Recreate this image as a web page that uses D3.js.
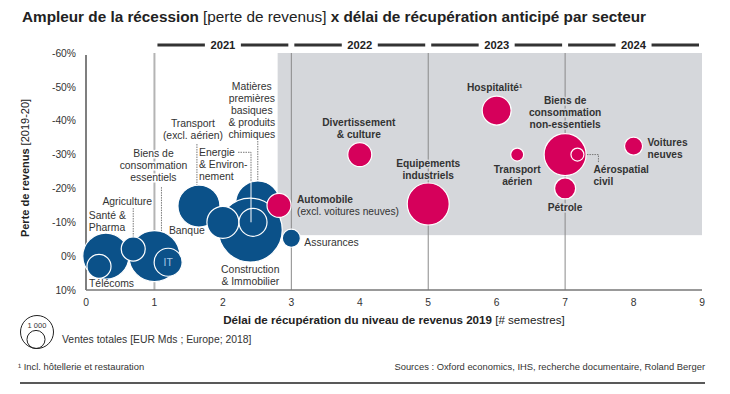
<!DOCTYPE html>
<html>
<head>
<meta charset="utf-8">
<script src="https://cdn.jsdelivr.net/npm/d3@7"></script>
<style>
  body { margin: 0; background: #fff; }
  svg { font-family: "Liberation Sans", Arial, sans-serif; }
</style>
</head>
<body>
<svg id="chart" width="730" height="394"></svg>
<script>
// sectors, in drawing order (later ones sit on top)
var sectors = ["Transport (excl. aérien)", "Matières premières basiques & produits chimiques", "Construction & Immobilier",
  "Banque", "Energie & Environnement", "Automobile (excl. voitures neuves)", "Assurances", "Santé & Pharma", "Télécoms",
  "Biens de consommation essentiels", "Agriculture", "IT", "Divertissement & culture", "Equipements industriels",
  "Hospitalité", "Transport aérien", "Biens de consommation non-essentiels", "Aérospatial civil", "Pétrole", "Voitures neuves"];
// recovery delay [# semesters]
var recovery = [1.65, 2.51, 2.4, 2.0, 2.44, 2.82, 3.0, 0.29, 0.19, 1.0, 0.69, 1.2, 4.0, 5.0, 6.0, 6.3, 7.0, 7.18, 7.0, 8.0];
// revenue loss 2019-20 [%]
var revenueLoss = [-14.8, -15.7, -7.7, -10, -10, -15, -5.3, 0, 3, 0, -2.1, 1.8, -30, -15.4, -43, -30, -30, -30, -20, -32.5];
// total sales [EUR bn; Europe; 2018]
var sales = [1620, 1780, 3760, 940, 720, 530, 300, 1950, 530, 2390, 530, 720, 530, 1620, 770, 155, 1620, 155, 405, 300];
// hardest hit sectors (drawn in pink)
var hardHit = [false, false, false, false, false, true, false, false, false, false, false, false, true, true, true, true, true, true, true, true];

var yTicks = [-60, -50, -40, -30, -20, -10, 0, 10];
var xTicks = [0, 1, 2, 3, 4, 5, 6, 7, 8, 9];
var years = ["2021", "2022", "2023", "2024"];
var legendSales = [1000, 300];

var blue = "#0b5189", pink = "#d6005b", grey = "#d5d7db", ink = "#333";

var svg = d3.select("#chart");
var x = d3.scaleLinear().domain([0, 9]).range([86, 702]);
var y = d3.scaleLinear().domain([-60, 10]).range([53, 290]);
var r = d3.scaleSqrt().domain([0, 1000]).range([0, 16.5]);

// title
var title = svg.append("text").attr("x", 22).attr("y", 22).attr("font-size", 15.3).attr("fill", "#222");
title.append("tspan").attr("font-weight", "bold").text("Ampleur de la récession");
title.append("tspan").text(" [perte de revenus] ");
title.append("tspan").attr("font-weight", "bold").text("x délai de récupération anticipé par secteur");

// shaded zone
svg.append("rect")
  .attr("x", x(2.8)).attr("y", y(-60))
  .attr("width", x(9) - x(2.8)).attr("height", y(-6.2) - y(-60))
  .attr("fill", grey);

// year brackets
years.forEach(function(yr, i) {
  var x0 = x(2 * i + 1) + 3, x1 = x(2 * i + 3) - 3, xm = (x0 + x1) / 2;
  svg.append("line").attr("x1", x0).attr("x2", xm - 18).attr("y1", 45).attr("y2", 45).attr("stroke", ink).attr("stroke-width", 3);
  svg.append("line").attr("x1", xm + 18).attr("x2", x1).attr("y1", 45).attr("y2", 45).attr("stroke", ink).attr("stroke-width", 3);
  svg.append("text").attr("x", xm).attr("y", 49).attr("text-anchor", "middle")
    .attr("font-size", 11.2).attr("font-weight", "bold").attr("fill", "#222").text(yr);
});

// year separators
[1, 3, 5, 7].forEach(function(v) {
  svg.append("line").attr("x1", x(v)).attr("x2", x(v)).attr("y1", y(-60)).attr("y2", y(10))
    .attr("stroke", v === 1 ? "#b4b4b4" : "#8a8a8a").attr("stroke-width", v === 1 ? 2 : 1);
});

// axes
svg.append("line").attr("x1", x(0)).attr("x2", x(0)).attr("y1", y(-60) + 2).attr("y2", y(10)).attr("stroke", "#555").attr("stroke-width", 1.5);
svg.append("line").attr("x1", x(0)).attr("x2", x(9)).attr("y1", y(10)).attr("y2", y(10)).attr("stroke", "#777").attr("stroke-width", 1.5);

svg.append("g").selectAll("text").data(yTicks).enter().append("text")
  .attr("x", 76).attr("y", function(d) { return y(d) + 3.7; })
  .attr("text-anchor", "end").attr("font-size", 10.3).attr("fill", ink)
  .text(function(d) { return d + "%"; });

svg.append("g").selectAll("text").data(xTicks).enter().append("text")
  .attr("x", function(d) { return x(d); }).attr("y", 306)
  .attr("text-anchor", "middle").attr("font-size", 10.3).attr("fill", ink)
  .text(function(d) { return d; });

var xt = svg.append("text").attr("x", 394).attr("y", 324).attr("text-anchor", "middle").attr("font-size", 11.6).attr("fill", "#222");
xt.append("tspan").attr("font-weight", "bold").text("Délai de récupération du niveau de revenus 2019");
xt.append("tspan").text(" [# semestres]");

var yt = svg.append("text").attr("transform", "translate(29,168) rotate(-90)").attr("text-anchor", "middle").attr("font-size", 11).attr("fill", "#222");
yt.append("tspan").attr("font-weight", "bold").text("Perte de revenus");
yt.append("tspan").text("  [2019-20]");

// label placement, offsets in px from each bubble centre
var labels = {
  0: {lines: ["Transport", "(excl. aérien)"], dx: -6, dy: -79, anchor: "middle", leader: [[-2, -62], [-2, "top"]]},
  1: {lines: ["Matières", "premières", "basiques", "& produits", "chimiques"], dx: -6, dy: -112.5, anchor: "middle", leader: [[0, -62], [0, "top"]]},
  2: {lines: ["Construction", "& Immobilier"], dx: 0, dy: 43, anchor: "middle"},
  3: {lines: ["Banque"], dx: -54, dy: 12, anchor: "start"},
  4: {lines: ["Energie", "& Environ-", "nement"], dx: -54, dy: -66.5, anchor: "start", leader: [[-15, -70], [-2, -70], [-2, -40]], inner: [[-2, -40], [-2, 0]]},
  5: {lines: ["Automobile", "(excl. voitures neuves)"], dx: 18, dy: -2.5, anchor: "start", boldFirst: true},
  6: {lines: ["Assurances"], dx: 13, dy: 7.5, anchor: "start"},
  7: {lines: ["Santé &", "Pharma"], dx: -17, dy: -37.5, anchor: "start"},
  8: {lines: ["Télécoms"], dx: -10, dy: 21, anchor: "start"},
  9: {lines: ["Biens de", "consommation", "essentiels"], dx: -1, dy: -99, anchor: "middle", halo: true, leader: [[7, -69], [7, "top"]]},
  10: {lines: ["Agriculture"], dx: -6, dy: -44.5, anchor: "middle", leader: [[0, -41], [0, "top"]]},
  11: {lines: ["IT"], dx: 0, dy: 4, anchor: "middle", inside: true},
  12: {lines: ["Divertissement", "& culture"], dx: -1, dy: -28.5, anchor: "middle"},
  13: {lines: ["Equipements", "industriels"], dx: 0, dy: -37.5, anchor: "middle", halo: true},
  14: {lines: ["Hospitalité¹"], dx: -2, dy: -19.5, anchor: "middle"},
  15: {lines: ["Transport", "aérien"], dx: 0, dy: 18.5, anchor: "middle"},
  16: {lines: ["Biens de", "consommation", "non-essentiels"], dx: 0, dy: -50.5, anchor: "middle", halo: true},
  17: {lines: ["Aérospatial", "civil"], dx: 16, dy: 18.5, anchor: "start", leader: [[7, 0], [21, 0], [21, 8]]},
  18: {lines: ["Pétrole"], dx: 0, dy: 22.5, anchor: "middle", halo: true},
  19: {lines: ["Voitures", "neuves"], dx: 14, dy: -0.5, anchor: "start"}
};

var data = sectors.map(function(s, i) {
  return {name: s, x: recovery[i], y: revenueLoss[i], sales: sales[i], hard: hardHit[i], label: labels[i]};
});

function leaderPoints(d) {
  var cx = x(d.x), cy = y(d.y), rad = r(d.sales);
  return d.label.leader.map(function(p) {
    var py = p[1] === "top" ? -Math.sqrt(rad * rad - p[0] * p[0]) : p[1];
    return [cx + p[0], cy + py];
  });
}

// dotted leaders (under bubbles)
svg.append("g").selectAll("path").data(data.filter(function(d) { return d.label.leader; })).enter().append("path")
  .attr("d", function(d) { return d3.line()(leaderPoints(d)); })
  .attr("fill", "none").attr("stroke", "#777").attr("stroke-width", 1).attr("stroke-dasharray", "1.5,1");

// bubbles
svg.append("g").selectAll("circle").data(data).enter().append("circle")
  .attr("cx", function(d) { return x(d.x); })
  .attr("cy", function(d) { return y(d.y); })
  .attr("r", function(d) { return r(d.sales); })
  .attr("fill", function(d) { return d.hard ? pink : blue; })
  .attr("stroke", "#fff").attr("stroke-width", 1.2);

// leader parts running over bubbles
data.filter(function(d) { return d.label.inner; }).forEach(function(d) {
  svg.append("path").attr("d", d3.line()(d.label.inner.map(function(p) { return [x(d.x) + p[0], y(d.y) + p[1]]; })))
    .attr("stroke", "#fff").attr("stroke-width", 1);
});

// labels
var lab = svg.append("g").selectAll("text").data(data).enter().append("text")
  .attr("x", function(d) { return x(d.x) + d.label.dx; })
  .attr("y", function(d) { return y(d.y) + d.label.dy; })
  .attr("text-anchor", function(d) { return d.label.anchor; })
  .attr("font-size", function(d) { return d.hard ? 10.2 : 10.4; })
  .attr("font-weight", function(d) { return d.hard && !d.label.boldFirst ? "bold" : "normal"; })
  .attr("fill", function(d) { return d.label.inside ? "#a9c8e6" : ink; })
  .attr("stroke", function(d) { return d.label.halo ? (d.hard || d.x > 3 ? grey : "#fff") : "none"; })
  .attr("stroke-width", 3).attr("paint-order", "stroke");

lab.each(function(d) {
  var t = d3.select(this);
  d.label.lines.forEach(function(line, k) {
    var ts = t.append("tspan").attr("x", x(d.x) + d.label.dx).attr("dy", k === 0 ? 0 : 12).text(line);
    if (d.label.boldFirst && k === 0) ts.attr("font-weight", "bold");
  });
});

// legend
var lg = svg.append("g");
legendSales.forEach(function(s, i) {
  var rad = r(s);
  lg.append("circle").attr("cx", 37 - i).attr("cy", 348.5 - rad).attr("r", rad)
    .attr("fill", "none").attr("stroke", "#222").attr("stroke-width", 1);
});
lg.append("text").attr("x", 37).attr("y", 328).attr("text-anchor", "middle").attr("font-size", 7.5).attr("fill", ink).text("1 000");
lg.append("text").attr("x", 62).attr("y", 342.5).attr("font-size", 10.4).attr("fill", ink).text("Ventes totales [EUR Mds ; Europe; 2018]");

// footer
svg.append("text").attr("x", 18).attr("y", 369.5).attr("font-size", 9.4).attr("fill", ink).text("¹  Incl. hôtellerie et restauration");
svg.append("text").attr("x", 705).attr("y", 369.5).attr("text-anchor", "end").attr("font-size", 9.4).attr("fill", ink)
  .text("Sources : Oxford economics, IHS, recherche documentaire, Roland Berger");
svg.append("line").attr("x1", 20).attr("x2", 705).attr("y1", 383).attr("y2", 383).attr("stroke", "#222").attr("stroke-width", 1.5);
</script>
</body>
</html>
